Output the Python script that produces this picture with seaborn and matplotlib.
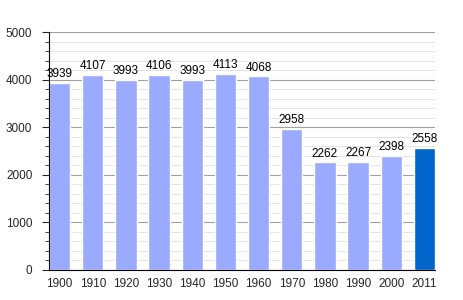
import matplotlib
matplotlib.use("Agg")
import matplotlib.pyplot as plt
import seaborn as sns
import pandas as pd
from matplotlib.ticker import MultipleLocator

years = ["1900", "1910", "1920", "1930", "1940", "1950", "1960", "1970", "1980", "1990", "2000", "2011"]
population = [3939, 4107, 3993, 4106, 3993, 4113, 4068, 2958, 2262, 2267, 2398, 2558]
highlight = ["old"] * 11 + ["new"]

df = pd.DataFrame({"year": years, "pop": population, "kind": highlight})

sns.set_style("white")
plt.rcParams["font.family"] = ["Liberation Sans", "DejaVu Sans"]

fig = plt.figure(figsize=(4.64, 3.0), dpi=100)
ax = fig.add_axes([0.1056, 0.1, 0.832, 0.793])

sns.barplot(data=df, x="year", y="pop", hue="kind",
            palette={"old": "#99AAFF", "new": "#0066CC"},
            width=0.64, dodge=False, legend=False, ax=ax, saturation=1)

ax.set_xlim(-0.32, 11.32)
ax.set_ylim(0, 5000)
ax.yaxis.set_major_locator(MultipleLocator(1000))
ax.yaxis.set_minor_locator(MultipleLocator(200))
ax.grid(which="major", axis="y", color="#a0a0a0", linewidth=0.8)
ax.grid(which="minor", axis="y", color="#e0e0e0", linewidth=0.6)
ax.set_axisbelow(True)

for i, v in enumerate(population):
    ax.text(i, v + 60, str(v), ha="center", va="bottom", fontsize=8.5, color="black")

for s in ["top", "right"]:
    ax.spines[s].set_visible(False)
ax.spines["left"].set_color("black")
ax.spines["bottom"].set_color("black")
ax.tick_params(axis="y", which="major", left=True, length=5, width=0.8, labelsize=8.5, pad=7)
ax.tick_params(axis="y", which="minor", left=True, length=3, width=0.6)
ax.tick_params(axis="x", bottom=False, labelsize=8.5, pad=2)
ax.set_xlabel("")
ax.set_ylabel("")

fig.savefig("out.png", dpi=100)
